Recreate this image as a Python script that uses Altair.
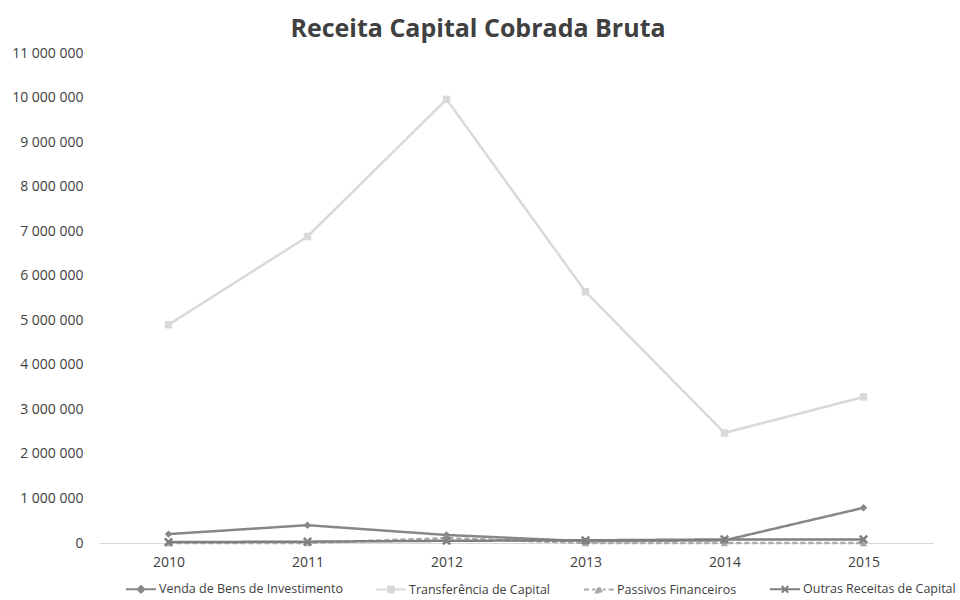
import altair as alt
import pandas as pd

years = ["2010", "2011", "2012", "2013", "2014", "2015"]
series_names = [
    "Venda de Bens de Investimento",
    "Transferência de Capital",
    "Passivos Financeiros",
    "Outras Receitas de Capital",
]
venda = [200000, 400000, 180000, 40000, 60000, 790000]
transf = [4900000, 6880000, 9960000, 5640000, 2470000, 3280000]
passivos = [0, 0, 110000, 0, 0, 0]
outras = [20000, 30000, 50000, 60000, 80000, 80000]

colors = ["#878787", "#d9d9d9", "#a9a9a9", "#7f7f7f"]
dashes = [[1, 0], [1, 0], [5, 3], [1, 0]]
marker_shapes = ["diamond", "square", "triangle-up", "M-1,-1L1,1M-1,1L1,-1"]
marker_filled = [True, True, True, False]
legend_paths = [
    "M-1,0H1M0,-0.22L0.22,0L0,0.22L-0.22,0Z",
    "M-1,0H1M-0.2,-0.2H0.2V0.2H-0.2Z",
    "M-1,0H-0.65M-0.45,0H-0.25M0.25,0H0.45M0.65,0H1M-0.2,0.2L0,-0.2L0.2,0.2Z",
    "M-1,0H1M-0.22,-0.22L0.22,0.22M-0.22,0.22L0.22,-0.22",
]

rows = []
for name, vals in zip(series_names, [venda, transf, passivos, outras]):
    for yr, v in zip(years, vals):
        rows.append({"ano": yr, "serie": name, "valor": v})
df = pd.DataFrame(rows)

FONT = "Open Sans"

x_enc = alt.X(
    "ano:O",
    sort=years,
    scale=alt.Scale(type="point", padding=0.5),
    axis=alt.Axis(
        title=None, labelAngle=0, ticks=False, domainColor="#d9d9d9",
        domainWidth=1, labelFontSize=14, labelColor="#404040", labelPadding=12,
        labelFont=FONT,
    ),
)
y_enc = alt.Y(
    "valor:Q",
    scale=alt.Scale(domain=[0, 11000000], nice=False),
    axis=alt.Axis(
        title=None, values=list(range(0, 11000001, 1000000)), grid=False,
        domain=False, ticks=False, labelFontSize=14, labelColor="#404040",
        labelPadding=16, labelFont=FONT,
        labelExpr="replace(format(datum.value, ','), regexp(',', 'g'), ' ')",
    ),
)

legend = alt.Legend(
    title=None, orient="none", legendX=26, legendY=520, direction="horizontal",
    labelFont=FONT, labelFontSize=12.5, labelColor="#404040", columnPadding=29,
    symbolSize=900, symbolStrokeWidth=2, symbolOpacity=1, labelOffset=2,
    symbolFillColor="transparent", labelLimit=0,
)

color_enc = alt.Color(
    "serie:N", scale=alt.Scale(domain=series_names, range=colors), legend=legend
)

base = alt.Chart(df)

lines = base.mark_line(strokeWidth=2.5).encode(
    x=x_enc, y=y_enc, color=color_enc,
    strokeDash=alt.StrokeDash(
        "serie:N", scale=alt.Scale(domain=series_names, range=dashes), legend=None
    ),
)

point_layers = []
for name, shp, fl in zip(series_names, marker_shapes, marker_filled):
    point_layers.append(
        base.transform_filter(alt.datum.serie == name)
        .mark_point(shape=shp, filled=fl, size=55, strokeWidth=2.5, opacity=1)
        .encode(x=x_enc, y=y_enc, color=color_enc)
    )

legend_layer = base.mark_point(opacity=0).encode(
    x=x_enc, y=y_enc, color=color_enc,
    shape=alt.Shape(
        "serie:N", scale=alt.Scale(domain=series_names, range=legend_paths),
        legend=legend,
    ),
)

chart = (
    alt.layer(
        lines,
        point_layers[1], point_layers[2], point_layers[0], point_layers[3],
        legend_layer,
    )
    .properties(
        width=834,
        height=490,
        background="white",
        title=alt.Title(
            "Receita Capital Cobrada Bruta", font=FONT, fontSize=25,
            fontWeight="bold", color="#404040", anchor="middle", dx=-38, offset=4,
        ),
        autosize=alt.AutoSizeParams(type="none"),
        padding={"left": 99, "top": 53, "right": 27, "bottom": 57},
    )
    .configure_view(stroke=None, strokeWidth=0)
)

chart.save("out.html", embed_options={"renderer": "svg", "actions": False})
